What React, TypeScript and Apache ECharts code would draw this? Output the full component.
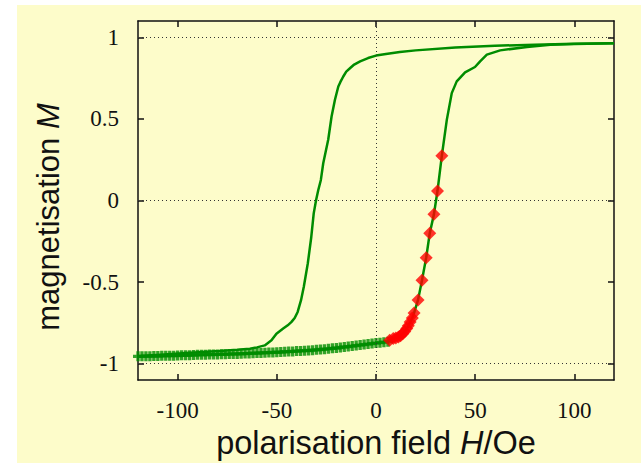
import React, { useEffect, useRef } from "react";
import * as echarts from "echarts";

// Lower (ascending) branch, measured with "+" markers
const crossH = [
  -120, -118, -116, -114, -112, -110, -108, -106, -104, -102, -100, -98, -96, -94, -92, -90,
  -88, -86, -84, -82, -80, -78, -76, -74, -72, -70, -68, -66, -64, -62, -60, -58, -56, -54,
  -52, -50, -48, -46, -44, -42, -40, -38, -36, -34, -32, -30, -28, -26, -24, -22, -20, -18,
  -16, -14, -12, -10, -8, -6, -4, -2, 0, 2, 4, 6,
];
const crossM = [
  -0.955, -0.955, -0.954, -0.954, -0.953, -0.953, -0.952, -0.952, -0.951, -0.951, -0.95,
  -0.949, -0.949, -0.948, -0.947, -0.946, -0.946, -0.945, -0.944, -0.944, -0.943, -0.942,
  -0.942, -0.941, -0.94, -0.94, -0.939, -0.938, -0.937, -0.936, -0.935, -0.934, -0.933,
  -0.932, -0.931, -0.93, -0.929, -0.927, -0.926, -0.925, -0.923, -0.922, -0.92, -0.919,
  -0.917, -0.915, -0.913, -0.911, -0.909, -0.906, -0.904, -0.901, -0.898, -0.895, -0.892,
  -0.889, -0.886, -0.883, -0.88, -0.877, -0.874, -0.871, -0.868, -0.865,
];

// Red diamond points on the ascending branch
const diamondH = [
  6.9, 8.7, 10.0, 11.3, 12.4, 13.5, 14.5, 15.5, 16.3, 17.2, 18.3, 19.2, 21.2, 23.2, 25.3, 27.1,
  29.2, 31.0, 33.2,
];
const diamondM = [
  -0.857, -0.846, -0.842, -0.837, -0.829, -0.816, -0.803, -0.785, -0.768, -0.745, -0.72,
  -0.689, -0.609, -0.488, -0.351, -0.201, -0.085, 0.058, 0.275,
];

// Remainder of ascending branch (line only)
const riseH = [35.7, 38.2, 40.7, 44.9, 49.9, 52.5, 55.9, 62.6, 76.1, 87.9, 100, 120];
const riseM = [0.494, 0.658, 0.73, 0.785, 0.818, 0.853, 0.894, 0.92, 0.941, 0.955, 0.959, 0.963];

// Descending branch (line only)
const fallH = [
  120, 100, 80, 60, 40, 20, 12, 5, 0, -4, -8, -11, -13, -15, -16.5, -18, -19, -20.7, -22.4,
  -24.1, -26.6, -27.8, -29.1, -30.2, -31.4, -32.7, -34.4, -36.4, -37.8, -39.5, -41, -42.6,
  -44.5, -46.8, -50.2, -52.7, -56.1, -60, -63.6, -70, -78.8, -95.6, -120,
];
const fallM = [
  0.963, 0.96, 0.955, 0.948, 0.937, 0.92, 0.91, 0.898, 0.888, 0.873, 0.853, 0.833, 0.812,
  0.79, 0.76, 0.725, 0.699, 0.617, 0.515, 0.372, 0.228, 0.126, 0.064, 0.003, -0.079, -0.23,
  -0.386, -0.529, -0.611, -0.683, -0.72, -0.744, -0.765, -0.785, -0.816, -0.857, -0.888,
  -0.9, -0.908, -0.915, -0.923, -0.935, -0.955,
];

const xTicks = [-100, -50, 0, 50, 100];
const yTicks = [-1, -0.5, 0, 0.5, 1];
const gridLinesY = [-1, 0, 1];
const gridLinesX = [0];

const GREEN = "#008c00";
const RED = "#ff0000";
const INK = "#111111";

const zip = (a: number[], b: number[]) => a.map((v, i) => [v, b[i]]);

export default function App() {
  const ref = useRef<HTMLDivElement>(null);
  useEffect(() => {
    document.body.style.margin = "0";
    if (!ref.current) return;
    const chart = echarts.init(ref.current, undefined, { renderer: "svg" });
    const axisLine = { show: true, onZero: false, lineStyle: { color: INK, width: 1.5 } };
    const tickStyle = { color: INK, width: 1.5 };
    const labelFont = {
      fontFamily: "'Liberation Serif', 'Times New Roman', Times, serif",
      fontSize: 23,
      color: INK,
    };
    const xTitleFont = { fontFamily: "'Liberation Sans', Arial, sans-serif", fontSize: 32.5, color: INK };
    const yTitleFont = { fontFamily: "'Liberation Sans', Arial, sans-serif", fontSize: 31, fill: INK };
    const lowerLine = [...zip(crossH, crossM), ...zip(diamondH, diamondM), ...zip(riseH, riseM)];
    chart.setOption({
      animation: false,
      backgroundColor: "#ffffff",
      graphic: [
        {
          type: "rect",
          z: -100,
          silent: true,
          shape: { x: 17, y: 5, width: 624, height: 458 },
          style: { fill: "#fdfcca" },
        },
        {
          type: "text",
          x: 48.5,
          y: 217,
          rotation: Math.PI / 2,
          silent: true,
          style: {
            text: "{t|magnetisation }{i|M}",
            align: "center",
            verticalAlign: "middle",
            ...yTitleFont,
            rich: {
              t: { ...yTitleFont },
              i: { ...yTitleFont, fontStyle: "italic" },
            },
          },
        },
      ],
      grid: { left: 138, right: 27, top: 21, bottom: 85 },
      xAxis: [
        {
          type: "value",
          min: -120,
          max: 120,
          position: "bottom",
          axisLine,
          axisTick: { show: true, inside: true, length: 6, customValues: xTicks, lineStyle: tickStyle },
          axisLabel: { show: true, customValues: xTicks, margin: 19, ...labelFont },
          splitLine: { show: false },
          name: "{t|polarisation field }{i|H}{t|/Oe}",
          nameLocation: "middle",
          nameGap: 42,
          nameTextStyle: {
            ...xTitleFont,
            rich: { t: { ...xTitleFont }, i: { ...xTitleFont, fontStyle: "italic" } },
          },
        },
        {
          type: "value",
          min: -120,
          max: 120,
          position: "top",
          axisLine,
          axisTick: { show: true, inside: true, length: 6, customValues: xTicks, lineStyle: tickStyle },
          axisLabel: { show: false },
          splitLine: { show: false },
        },
      ],
      yAxis: [
        {
          type: "value",
          min: -1.1,
          max: 1.1,
          position: "left",
          axisLine,
          axisTick: { show: true, inside: true, length: 6, customValues: yTicks, lineStyle: tickStyle },
          axisLabel: {
            show: true,
            customValues: yTicks,
            margin: 19,
            ...labelFont,
            formatter: (v: number) => String(v),
          },
          splitLine: { show: false },
        },
        {
          type: "value",
          min: -1.1,
          max: 1.1,
          position: "right",
          axisLine,
          axisTick: { show: true, inside: true, length: 6, customValues: yTicks, lineStyle: tickStyle },
          axisLabel: { show: false },
          splitLine: { show: false },
        },
      ],
      series: [
        {
          type: "line",
          data: zip(fallH, fallM),
          symbol: "none",
          lineStyle: { color: GREEN, width: 2.5 },
          z: 3,
          markLine: {
            silent: true,
            symbol: ["none", "none"],
            label: { show: false },
            lineStyle: { type: [1, 3], color: "#333", width: 1 },
            data: [...gridLinesY.map((y) => ({ yAxis: y })), ...gridLinesX.map((x) => ({ xAxis: x }))],
          },
        },
        {
          type: "line",
          data: lowerLine,
          symbol: "none",
          lineStyle: { color: GREEN, width: 2.5 },
          z: 3,
        },
        {
          type: "scatter",
          data: zip(crossH, crossM),
          symbol: "path://M3,0h3v3h3v3h-3v3h-3v-3h-3v-3h3z",
          symbolSize: 10,
          itemStyle: { color: GREEN },
          z: 4,
        },
        {
          type: "scatter",
          data: zip(diamondH, diamondM),
          symbol: "diamond",
          symbolSize: 13,
          itemStyle: { color: RED },
          z: 5,
        },
      ],
    });
    return () => chart.dispose();
  }, []);
  return <div ref={ref} style={{ width: 641, height: 465 }} />;
}
